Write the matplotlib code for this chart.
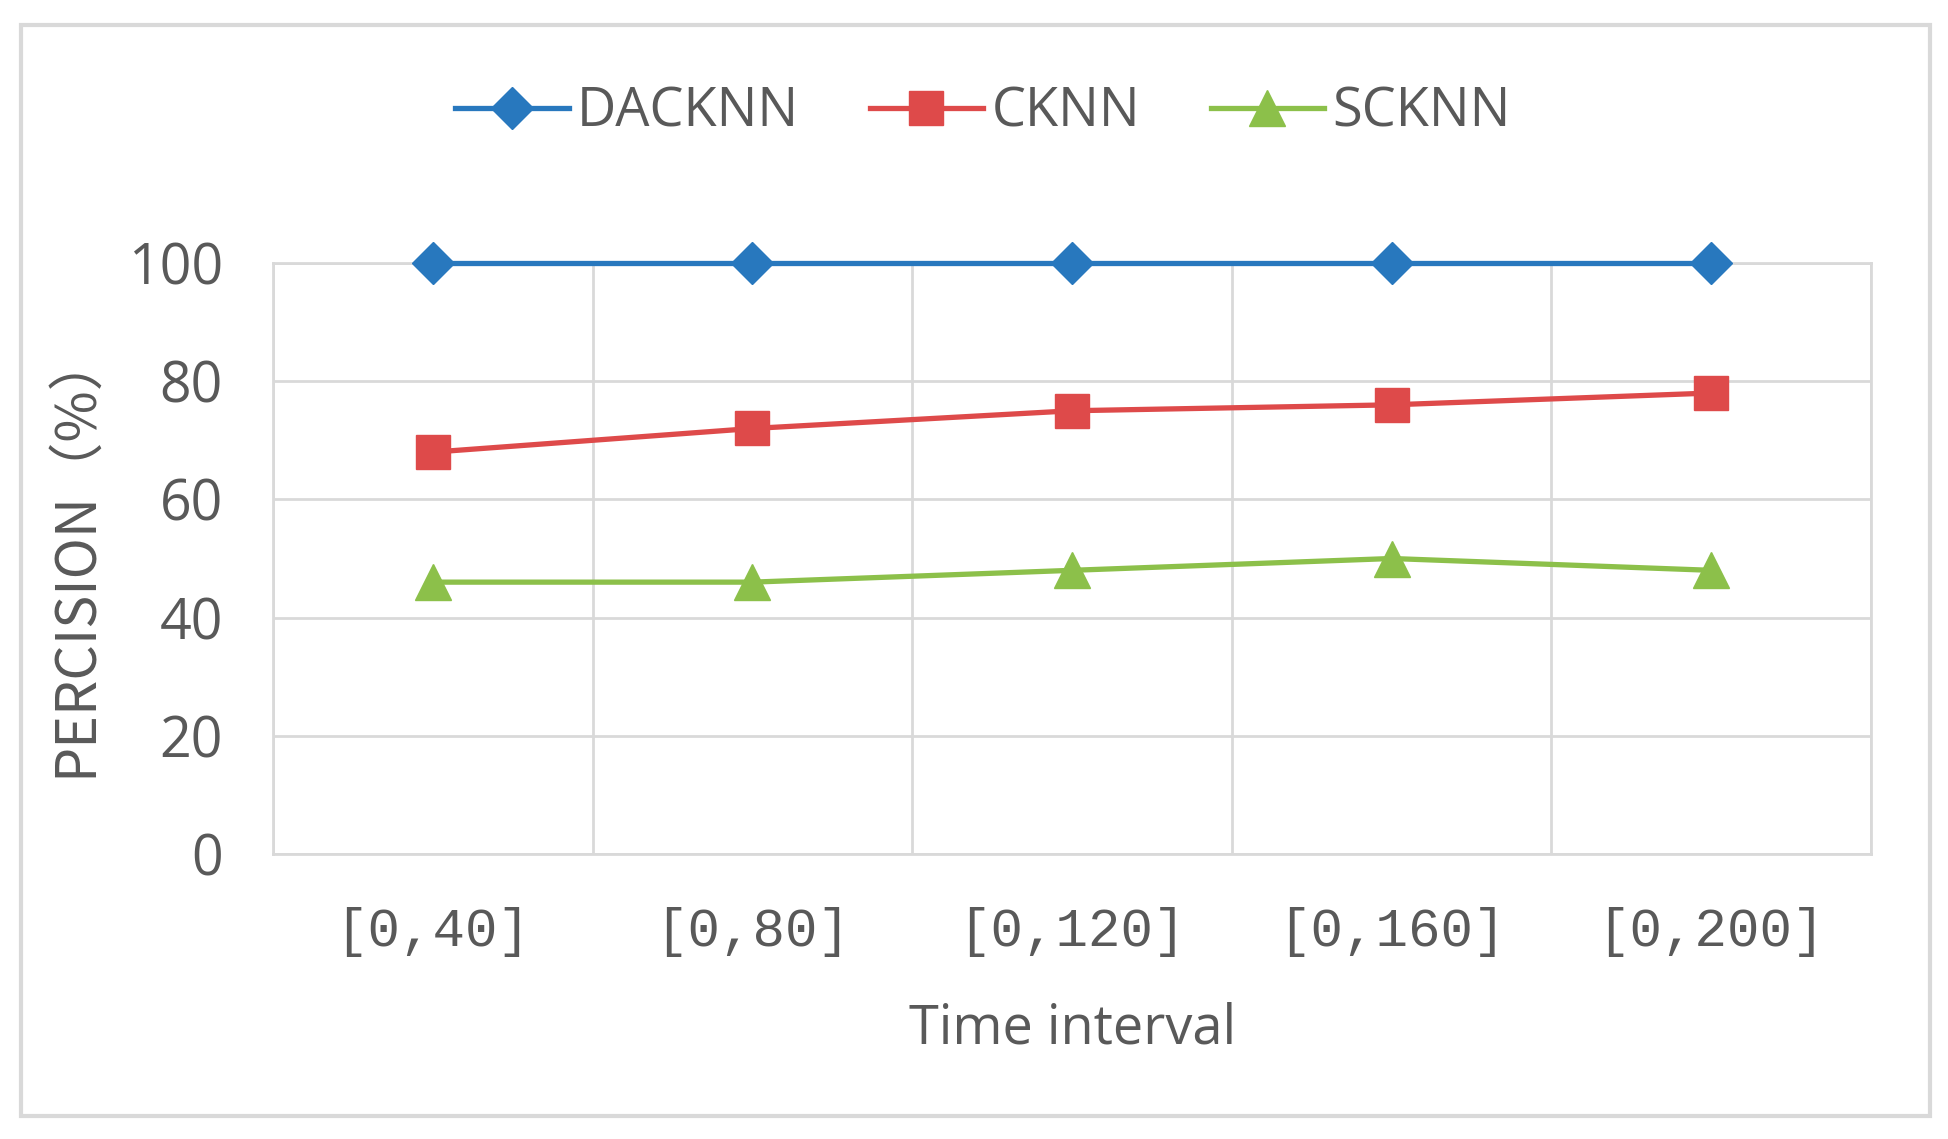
import matplotlib
matplotlib.use("Agg")
import matplotlib.pyplot as plt
from matplotlib.patches import Rectangle

categories = ["[0,40]", "[0,80]", "[0,120]", "[0,160]", "[0,200]"]
dacknn = [100, 100, 100, 100, 100]
cknn = [68, 72, 75, 76, 78]
scknn = [46, 46, 48, 50, 48]
y_ticks = [0, 20, 40, 60, 80, 100]

plt.rcParams['font.family'] = ['Open Sans', 'Noto Sans CJK SC', 'DejaVu Sans']
TXT = '#595959'
GRID = '#d9d9d9'

fig = plt.figure(figsize=(19.49, 11.39), dpi=100)
fig.patch.set_facecolor('white')
fig.patches.append(Rectangle((21/1949, 1-1116/1139), (1930-21)/1949, (1116-25)/1139,
                             transform=fig.transFigure, fill=False, edgecolor=GRID, lw=3))

ax = fig.add_axes([273/1949, 1-854/1139, (1871-273)/1949, (854-263)/1139])
x = [i + 0.5 for i in range(len(categories))]

ax.plot(x, dacknn, color='#2878BE', lw=3.8, marker='D', ms=21, label='DACKNN', zorder=3, clip_on=False)
ax.plot(x, cknn, color='#DE4A4A', lw=3.8, marker='s', ms=25, label='CKNN', zorder=3, clip_on=False)
ax.plot(x, scknn, color='#8CC04A', lw=3.8, marker='^', ms=26, label='SCKNN', zorder=3, clip_on=False)

ax.set_xlim(0, len(categories))
ax.set_ylim(0, 100)
ax.set_yticks(y_ticks)
ax.set_yticklabels([str(v) for v in y_ticks], fontsize=40, color=TXT)
ax.set_xticks(x)
ax.set_xticklabels(categories, fontsize=39, color=TXT,
                   family=['Liberation Mono', 'DejaVu Sans Mono'])
ax.set_xticks(range(len(categories) + 1), minor=True)
ax.tick_params(axis='y', length=0, pad=36)
ax.tick_params(axis='x', which='both', length=0, pad=38)
ax.grid(True, axis='y', color=GRID, lw=2)
ax.grid(True, axis='x', which='minor', color=GRID, lw=2)
ax.set_axisbelow(True)
for s in ax.spines.values():
    s.set_color(GRID)
    s.set_linewidth(2)

fig.text(75/1949, 1-553/1139, 'PERCISION（%）', rotation=90, ha='center', va='center',
         fontsize=40, color=TXT, family=['Noto Sans CJK SC', 'DejaVu Sans'])
fig.text(1073/1949, 1-1029/1139, 'Time interval', ha='center', va='center',
         fontsize=39, color=TXT)

fig.legend(loc='center', bbox_to_anchor=(983/1949, 1-112/1139), ncol=3, frameon=False,
           fontsize=39, handlelength=2.1, handletextpad=0.15, columnspacing=1.3,
           labelcolor=TXT)

fig.savefig('out.png', dpi=100)
